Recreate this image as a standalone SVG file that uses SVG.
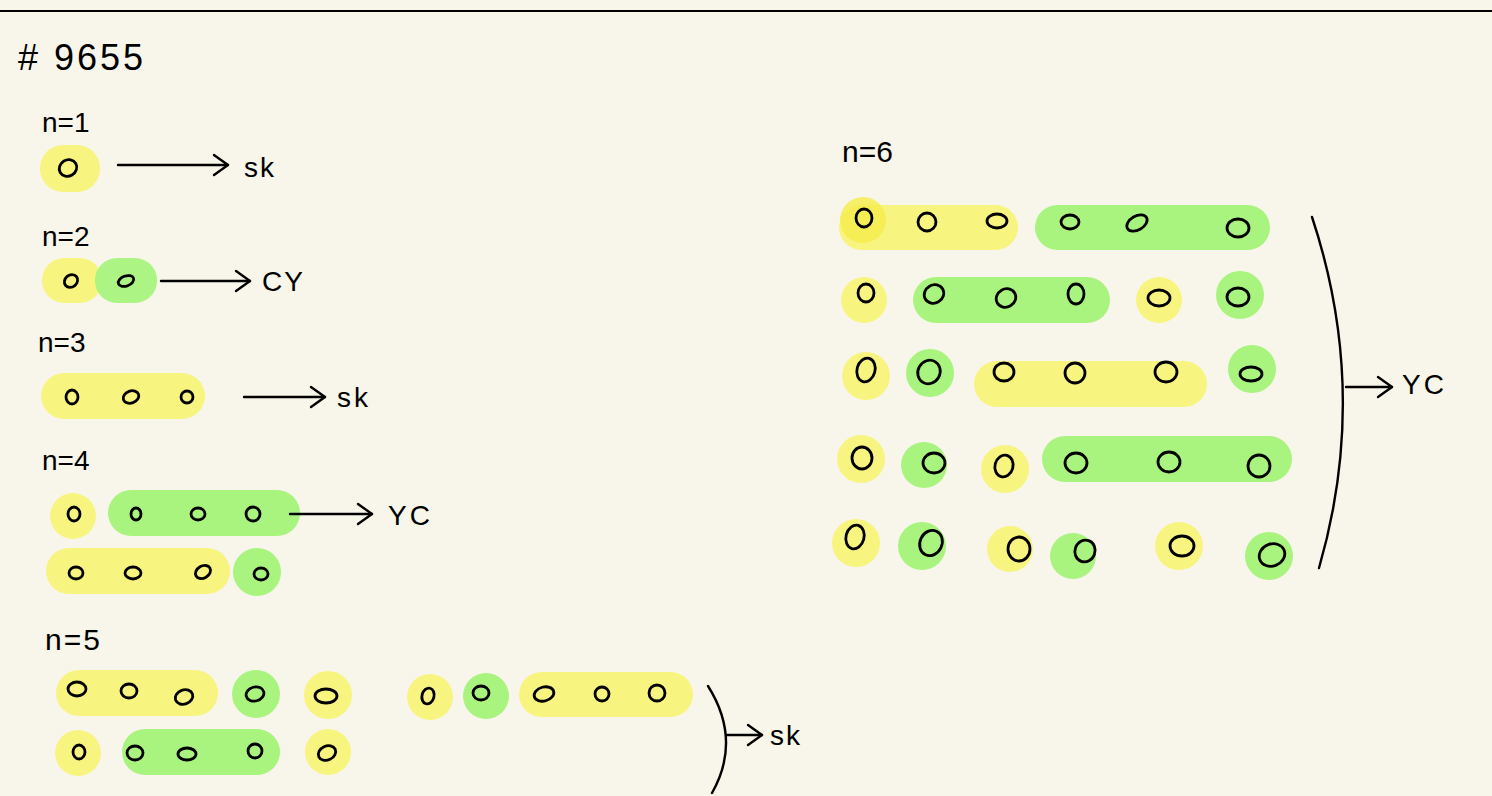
<svg xmlns="http://www.w3.org/2000/svg" width="1492" height="796" viewBox="0 0 1492 796">
<style>
.y{fill:#f8f480}
.g{fill:#a8f47e}
.yb{fill:#f4ee4a;opacity:0.8}
.o{fill:none;stroke:#000;stroke-width:2.8}
.ln{fill:none;stroke:#000;stroke-width:2.4;stroke-linecap:round}
.t{font-family:"Liberation Sans","DejaVu Sans",sans-serif;fill:#000;font-size:28px}
</style>
<defs>
<marker id="ah" viewBox="0 0 20 24" refX="18" refY="12" markerWidth="20" markerHeight="24" markerUnits="userSpaceOnUse" orient="auto">
<path d="M4 2 L18 12 L4 22" fill="none" stroke="#000" stroke-width="2.4" stroke-linecap="round" stroke-linejoin="round"/>
</marker>
</defs>
<rect width="1492" height="796" fill="#f8f6ea"/>
<line x1="0" y1="11" x2="1492" y2="11" stroke="#000" stroke-width="2"/>
<text class="t" x="18" y="70" style="font-size:36px;letter-spacing:3px"># 9655</text>

<g id="n1">
<text class="t" x="42" y="132">n=1</text>
<rect class="y" x="40" y="145" width="60" height="47" rx="23"/>
<ellipse class="o" cx="68" cy="168" rx="9" ry="8" transform="rotate(-30 68 168)"/>
<text class="t" x="244" y="177" style="letter-spacing:2px">sk</text>
</g>

<g id="n2">
<text class="t" x="42" y="246">n=2</text>
<rect class="y" x="42" y="258" width="60" height="45" rx="22"/>
<rect class="g" x="95" y="258" width="62" height="45" rx="22" opacity="0.95"/>
<ellipse class="o" cx="71" cy="281" rx="7" ry="6" transform="rotate(-40 71 281)"/>
<ellipse class="o" cx="126" cy="281" rx="8" ry="5" transform="rotate(-20 126 281)"/>
<text class="t" x="262" y="291" style="letter-spacing:2px">CY</text>
</g>

<g id="n3">
<text class="t" x="38" y="352">n=3</text>
<rect class="y" x="41" y="373" width="164" height="46" rx="23"/>
<ellipse class="o" cx="72" cy="397" rx="6" ry="7"/>
<ellipse class="o" cx="131" cy="397" rx="8" ry="6" transform="rotate(-20 131 397)"/>
<ellipse class="o" cx="187" cy="397" rx="6" ry="6"/>
<text class="t" x="337" y="407" style="letter-spacing:3px">sk</text>
</g>

<g id="n4">
<text class="t" x="42" y="470">n=4</text>
<circle class="y" cx="73" cy="516" r="23"/>
<rect class="g" x="108" y="490" width="192" height="46" rx="23"/>
<ellipse class="o" cx="74" cy="514" rx="6" ry="7"/>
<ellipse class="o" cx="136" cy="514" rx="5" ry="6"/>
<ellipse class="o" cx="198" cy="514" rx="7" ry="6"/>
<ellipse class="o" cx="253" cy="514" rx="7" ry="7"/>
<text class="t" x="388" y="525" style="letter-spacing:3px">YC</text>
<rect class="y" x="46" y="548" width="184" height="46" rx="23"/>
<circle class="g" cx="257" cy="572" r="24"/>
<ellipse class="o" cx="76" cy="573" rx="7" ry="6"/>
<ellipse class="o" cx="133" cy="573" rx="8" ry="6"/>
<ellipse class="o" cx="203" cy="572" rx="8" ry="6" transform="rotate(-30 203 572)"/>
<ellipse class="o" cx="261" cy="574" rx="7" ry="6"/>
</g>

<g id="n5">
<text class="t" x="45" y="650" style="font-size:30px;letter-spacing:2px">n=5</text>
<rect class="y" x="56" y="670" width="162" height="46" rx="23"/>
<circle class="g" cx="256" cy="694" r="24"/>
<circle class="y" cx="328" cy="695" r="24"/>
<circle class="y" cx="430" cy="697" r="23"/>
<circle class="g" cx="486" cy="696" r="23"/>
<rect class="y" x="519" y="672" width="174" height="45" rx="22.5"/>
<ellipse class="o" cx="77" cy="689" rx="9" ry="7"/>
<ellipse class="o" cx="129" cy="691" rx="8" ry="7"/>
<ellipse class="o" cx="184" cy="697" rx="9" ry="7" transform="rotate(-20 184 697)"/>
<ellipse class="o" cx="255" cy="694" rx="9" ry="7" transform="rotate(-15 255 694)"/>
<ellipse class="o" cx="326" cy="696" rx="11" ry="7"/>
<ellipse class="o" cx="428" cy="696" rx="6" ry="8" transform="rotate(15 428 696)"/>
<ellipse class="o" cx="481" cy="693" rx="8" ry="7"/>
<ellipse class="o" cx="544" cy="694" rx="10" ry="7" transform="rotate(-15 544 694)"/>
<ellipse class="o" cx="602" cy="694" rx="7" ry="7"/>
<ellipse class="o" cx="657" cy="693" rx="8" ry="8"/>
<circle class="y" cx="78" cy="753" r="23"/>
<rect class="g" x="122" y="729" width="158" height="46" rx="23"/>
<circle class="y" cx="328" cy="752" r="23"/>
<ellipse class="o" cx="79" cy="752" rx="6" ry="7"/>
<ellipse class="o" cx="135" cy="753" rx="8" ry="7"/>
<ellipse class="o" cx="187" cy="754" rx="9" ry="6"/>
<ellipse class="o" cx="255" cy="751" rx="7" ry="7"/>
<ellipse class="o" cx="327" cy="753" rx="9" ry="7" transform="rotate(-25 327 753)"/>
<text class="t" x="770" y="745" style="letter-spacing:2px">sk</text>
</g>

<g id="n6">
<text class="t" x="842" y="162" style="font-size:30px">n=6</text>
<rect class="y" x="839" y="205" width="179" height="45" rx="22.5"/>
<circle class="yb" cx="863" cy="220" r="23"/>
<rect class="g" x="1035" y="205" width="235" height="45" rx="22.5"/>
<ellipse class="o" cx="864" cy="218" rx="8" ry="9"/>
<ellipse class="o" cx="927" cy="222" rx="9" ry="9"/>
<ellipse class="o" cx="997" cy="221" rx="10" ry="7"/>
<ellipse class="o" cx="1070" cy="222" rx="9" ry="7"/>
<ellipse class="o" cx="1137" cy="223" rx="11" ry="7" transform="rotate(-30 1137 223)"/>
<ellipse class="o" cx="1238" cy="228" rx="11" ry="9"/>

<circle class="y" cx="864" cy="300" r="23"/>
<rect class="g" x="913" y="277" width="197" height="46" rx="23"/>
<circle class="y" cx="1159" cy="300" r="23"/>
<circle class="g" cx="1240" cy="295" r="24"/>
<ellipse class="o" cx="866" cy="293" rx="8" ry="9"/>
<ellipse class="o" cx="934" cy="294" rx="10" ry="9" transform="rotate(-30 934 294)"/>
<ellipse class="o" cx="1006" cy="298" rx="10" ry="9" transform="rotate(-30 1006 298)"/>
<ellipse class="o" cx="1076" cy="294" rx="8" ry="10"/>
<ellipse class="o" cx="1159" cy="298" rx="11" ry="8"/>
<ellipse class="o" cx="1238" cy="297" rx="11" ry="9"/>

<circle class="y" cx="866" cy="376" r="24"/>
<circle class="g" cx="930" cy="373" r="24"/>
<rect class="y" x="974" y="361" width="233" height="46" rx="23"/>
<circle class="g" cx="1252" cy="369" r="24"/>
<ellipse class="o" cx="866" cy="370" rx="9" ry="12" transform="rotate(15 866 370)"/>
<ellipse class="o" cx="929" cy="372" rx="11" ry="12" transform="rotate(30 929 372)"/>
<ellipse class="o" cx="1004" cy="372" rx="10" ry="9"/>
<ellipse class="o" cx="1075" cy="373" rx="10" ry="10"/>
<ellipse class="o" cx="1166" cy="372" rx="11" ry="10"/>
<ellipse class="o" cx="1251" cy="374" rx="11" ry="7"/>

<circle class="y" cx="861" cy="459" r="24"/>
<circle class="g" cx="924" cy="465" r="23"/>
<circle class="y" cx="1005" cy="469" r="24"/>
<rect class="g" x="1042" y="436" width="250" height="46" rx="23"/>
<ellipse class="o" cx="862" cy="458" rx="10" ry="11"/>
<ellipse class="o" cx="934" cy="463" rx="11" ry="10"/>
<ellipse class="o" cx="1004" cy="466" rx="9" ry="11" transform="rotate(15 1004 466)"/>
<ellipse class="o" cx="1076" cy="463" rx="11" ry="10"/>
<ellipse class="o" cx="1169" cy="462" rx="11" ry="10"/>
<ellipse class="o" cx="1259" cy="466" rx="11" ry="11"/>

<circle class="y" cx="856" cy="543" r="24"/>
<circle class="g" cx="922" cy="546" r="24"/>
<circle class="y" cx="1010" cy="549" r="23"/>
<circle class="g" cx="1073" cy="556" r="23"/>
<circle class="y" cx="1179" cy="546" r="24"/>
<circle class="g" cx="1269" cy="556" r="24"/>
<ellipse class="o" cx="855" cy="537" rx="9" ry="12" transform="rotate(15 855 537)"/>
<ellipse class="o" cx="931" cy="543" rx="11" ry="13" transform="rotate(25 931 543)"/>
<ellipse class="o" cx="1019" cy="549" rx="11" ry="12"/>
<ellipse class="o" cx="1085" cy="551" rx="10" ry="11" transform="rotate(20 1085 551)"/>
<ellipse class="o" cx="1182" cy="546" rx="12" ry="10"/>
<ellipse class="o" cx="1272" cy="555" rx="13" ry="11" transform="rotate(-20 1272 555)"/>
<text class="t" x="1402" y="394" style="letter-spacing:3px">YC</text>
</g>

<g id="connectors">
<line class="ln" x1="118" y1="165" x2="228" y2="165" marker-end="url(#ah)"/>
<line class="ln" x1="161" y1="281" x2="250" y2="281" marker-end="url(#ah)"/>
<line class="ln" x1="244" y1="397" x2="325" y2="397" marker-end="url(#ah)"/>
<line class="ln" x1="290" y1="514" x2="372" y2="514" marker-end="url(#ah)"/>
<path class="ln" d="M708 686 Q742 740 712 793"/>
<line class="ln" x1="726" y1="735" x2="762" y2="735" marker-end="url(#ah)"/>
<path class="ln" d="M1312 217 Q1370 392 1319 568"/>
<line class="ln" x1="1346" y1="387" x2="1392" y2="387" marker-end="url(#ah)"/>
</g>
</svg>
